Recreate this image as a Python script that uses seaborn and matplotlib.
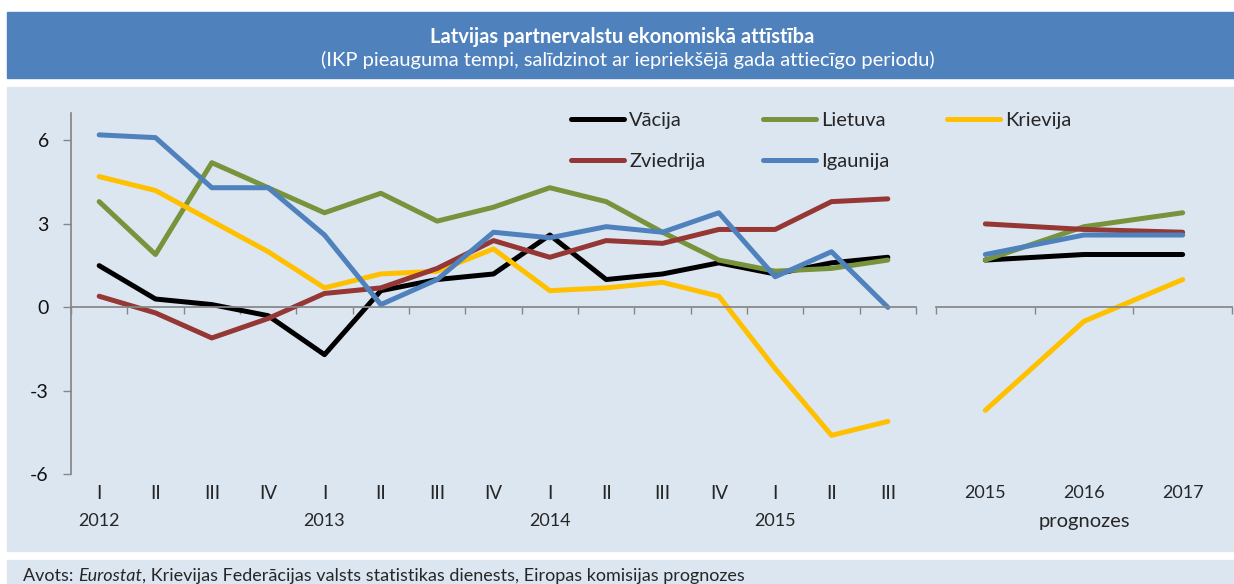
import numpy as np
import pandas as pd
import matplotlib
matplotlib.use("Agg")
import matplotlib.pyplot as plt
import matplotlib.transforms as mtransforms
from matplotlib.patches import Rectangle
from matplotlib.lines import Line2D
import seaborn as sns

# ── Data ────────────────────────────────────────────────────────
quarters = ["I", "II", "III", "IV", "I", "II", "III", "IV",
            "I", "II", "III", "IV", "I", "II", "III"]
year_pos = [0, 4, 8, 12]
year_labels = ["2012", "2013", "2014", "2015"]
forecast_years = ["2015", "2016", "2017"]

countries = ["Vācija", "Lietuva", "Krievija", "Zviedrija", "Igaunija"]
colors = ["#000000", "#77933C", "#FFC000", "#953735", "#4F81BD"]

vacija_q = [1.5, 0.3, 0.1, -0.3, -1.7, 0.6, 1.0, 1.2, 2.6, 1.0, 1.2, 1.6, 1.2, 1.6, 1.8]
lietuva_q = [3.8, 1.9, 5.2, 4.3, 3.4, 4.1, 3.1, 3.6, 4.3, 3.8, 2.7, 1.7, 1.3, 1.4, 1.7]
krievija_q = [4.7, 4.2, 3.1, 2.0, 0.7, 1.2, 1.3, 2.1, 0.6, 0.7, 0.9, 0.4, -2.2, -4.6, -4.1]
zviedrija_q = [0.4, -0.2, -1.1, -0.4, 0.5, 0.7, 1.4, 2.4, 1.8, 2.4, 2.3, 2.8, 2.8, 3.8, 3.9]
igaunija_q = [6.2, 6.1, 4.3, 4.3, 2.6, 0.1, 1.0, 2.7, 2.5, 2.9, 2.7, 3.4, 1.1, 2.0, 0.0]

vacija_f = [1.7, 1.9, 1.9]
lietuva_f = [1.7, 2.9, 3.4]
krievija_f = [-3.7, -0.5, 1.0]
zviedrija_f = [3.0, 2.8, 2.7]
igaunija_f = [1.9, 2.6, 2.6]

# ── Style ───────────────────────────────────────────────────────
sns.set_theme(style="white")
plt.rcParams["font.family"] = ["Lato", "DejaVu Sans"]
plt.rcParams["lines.solid_capstyle"] = "round"
plt.rcParams["lines.solid_joinstyle"] = "round"

BAND = "#4F81BD"
PANEL = "#DCE6F1"
AXIS = "#868686"
LW = 3.6

W, H = 1234, 584


def fx(px):
    return px / W


def fy(py):
    return 1 - py / H


fig = plt.figure(figsize=(W / 100, H / 100), dpi=100, facecolor="white")

# background bands (kept behind the axes)
for top, bottom, col in [(12, 78, BAND), (87, 551, PANEL), (560, 584, PANEL)]:
    fig.patches.append(Rectangle((fx(7), fy(bottom)), fx(1234 - 7), (bottom - top) / H,
                                 transform=fig.transFigure, color=col, zorder=-10))

fig.text(fx(622), fy(37), "Latvijas partnervalstu ekonomiskā attīstība",
         ha="center", va="center", color="white", fontsize=14.5, fontweight="bold")
fig.text(fx(628), fy(60), "(IKP pieauguma tempi, salīdzinot ar iepriekšējā gada attiecīgo periodu)",
         ha="center", va="center", color="white", fontsize=14.5)

ax_bottom, ax_top = 474.3, 112.6
ax_l = fig.add_axes([fx(71), fy(ax_bottom), fx(916 - 71), (ax_bottom - ax_top) / H])
ax_r = fig.add_axes([fx(936), fy(ax_bottom), fx(1232 - 936), (ax_bottom - ax_top) / H])

left = pd.DataFrame({"pos": range(len(quarters)), "Vācija": vacija_q, "Lietuva": lietuva_q,
                     "Krievija": krievija_q, "Zviedrija": zviedrija_q, "Igaunija": igaunija_q})
left = left.melt(id_vars="pos", var_name="country", value_name="value")
right = pd.DataFrame({"pos": range(len(forecast_years)), "Vācija": vacija_f, "Lietuva": lietuva_f,
                      "Krievija": krievija_f, "Zviedrija": zviedrija_f, "Igaunija": igaunija_f})
right = right.melt(id_vars="pos", var_name="country", value_name="value")

for ax, df, n in [(ax_l, left, len(quarters)), (ax_r, right, len(forecast_years))]:
    sns.lineplot(data=df, x="pos", y="value", hue="country", hue_order=countries,
                 palette=colors, linewidth=LW, legend=False, ax=ax)
    ax.set_facecolor("none")
    ax.set_xlim(-0.5, n - 0.5)
    ax.set_ylim(-6, 7)
    ax.set_xlabel("")
    ax.set_ylabel("")
    ax.set_xticks(np.arange(-0.5, n, 1))
    ax.set_xticklabels([])
    ax.tick_params(axis="x", direction="out", length=5, width=1, color=AXIS, bottom=True)
    ax.spines["bottom"].set_position(("data", 0))
    ax.spines["bottom"].set_color(AXIS)
    ax.spines["top"].set_visible(False)
    ax.spines["right"].set_visible(False)

ax_l.spines["left"].set_color(AXIS)
ax_l.set_yticks([-6, -3, 0, 3, 6])
ax_l.set_yticklabels(["-6", "-3", "0", "3", "6"])
ax_l.tick_params(axis="y", direction="out", length=6, width=1, color=AXIS,
                 left=True, labelsize=14, pad=10, labelcolor="#111111")

ax_r.spines["left"].set_visible(False)
ax_r.set_yticks([])

# category labels below the plot
tl = mtransforms.blended_transform_factory(ax_l.transData, ax_l.transAxes)
for i, q in enumerate(quarters):
    ax_l.text(i, -0.052, q, transform=tl, ha="center", va="center", fontsize=13.5)
for p, y in zip(year_pos, year_labels):
    ax_l.text(p, -0.13, y, transform=tl, ha="center", va="center", fontsize=13)

tr = mtransforms.blended_transform_factory(ax_r.transData, ax_r.transAxes)
for i, y in enumerate(forecast_years):
    ax_r.text(i, -0.052, y, transform=tr, ha="center", va="center", fontsize=13)
ax_r.text(1, -0.13, "prognozes", transform=tr, ha="center", va="center", fontsize=14.5)

# legend: row-major look with column-major fill
order = ["Vācija", "Zviedrija", "Lietuva", "Igaunija", "Krievija"]
handles = [Line2D([], [], color=colors[countries.index(c)], linewidth=LW) for c in order]
fig.legend(handles, order, ncol=3, loc="upper left", bbox_to_anchor=(fx(571), fy(112)),
           frameon=False, fontsize=14.5, handlelength=2.65, handletextpad=0.25,
           columnspacing=2.85, labelspacing=1.2, borderpad=0, borderaxespad=0)

# footer with italic source name
fig.canvas.draw()
renderer = fig.canvas.get_renderer()
x0 = fx(23)
parts = [("Avots: ", "normal"), ("Eurostat", "italic"),
         (", Krievijas Federācijas valsts statistikas dienests, Eiropas komisijas prognozes", "normal")]
for txt, style in parts:
    t = fig.text(x0, fy(576), txt, ha="left", va="center", fontsize=13, fontstyle=style)
    bb = t.get_window_extent(renderer=renderer)
    x0 += bb.width / W

fig.savefig("out.png", dpi=100)
